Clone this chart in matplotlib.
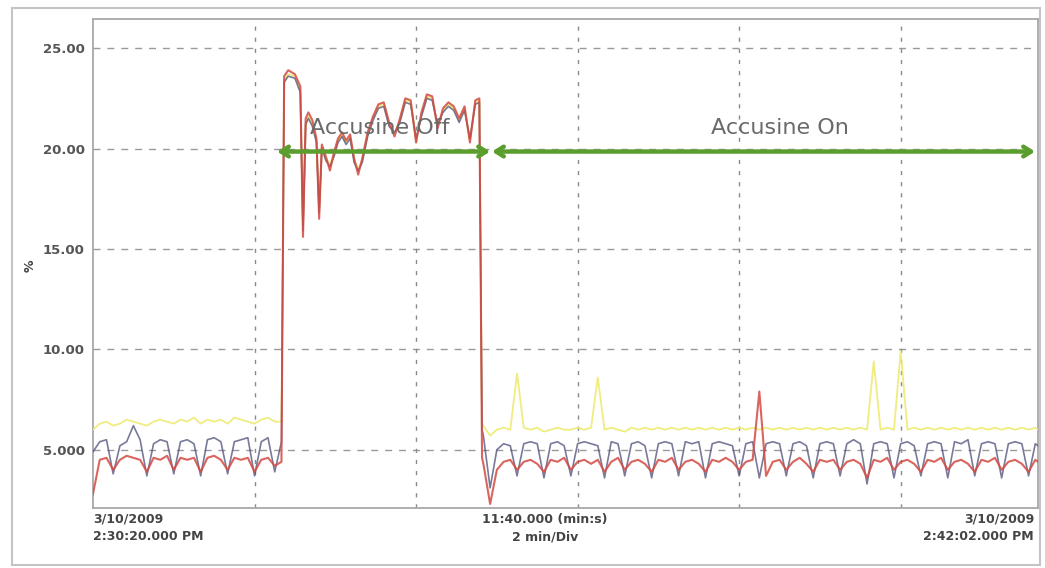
import numpy as np
import matplotlib
matplotlib.use("Agg")
import matplotlib.pyplot as plt
from matplotlib.patches import Rectangle

# ---------------- data (percent values) ----------------
# time in seconds from 3/10/2009 2:30:20.000 PM
t_pre = np.arange(0, 140, 5)
red_pre = [2.8, 4.5, 4.6, 4.0, 4.5, 4.7, 4.6, 4.5, 3.9, 4.6, 4.5, 4.7, 4.0, 4.6,
           4.5, 4.6, 3.9, 4.6, 4.7, 4.5, 4.0, 4.6, 4.5, 4.6, 3.9, 4.5, 4.6, 4.2]
blue_pre = [4.9, 5.4, 5.5, 3.8, 5.2, 5.4, 6.2, 5.5, 3.7, 5.3, 5.5, 5.4, 3.8, 5.4,
            5.5, 5.3, 3.7, 5.5, 5.6, 5.4, 3.8, 5.4, 5.5, 5.6, 3.7, 5.4, 5.6, 3.9]
yellow_pre = [6.0, 6.3, 6.4, 6.2, 6.3, 6.5, 6.4, 6.3, 6.2, 6.4, 6.5, 6.4, 6.3, 6.5,
              6.4, 6.6, 6.3, 6.5, 6.4, 6.5, 6.3, 6.6, 6.5, 6.4, 6.3, 6.5, 6.6, 6.4]

t_off = [140, 142, 145, 150, 154, 156, 158, 160, 163, 166, 168, 170, 173, 176, 179,
         182, 185, 188, 191, 194, 197, 200, 204, 208, 212, 216, 220, 224, 228, 232,
         236, 240, 244, 248, 252, 256, 260, 264, 268, 272, 276, 280, 284, 287, 289]
red_off = [4.4, 23.6, 23.9, 23.7, 23.1, 15.6, 21.5, 21.8, 21.4, 20.5, 16.5, 20.2, 19.6, 18.9, 19.8,
           20.5, 20.8, 20.4, 20.7, 19.5, 18.7, 19.5, 20.8, 21.6, 22.2, 22.3, 21.3, 20.6, 21.5, 22.5,
           22.4, 20.3, 21.8, 22.7, 22.6, 21.0, 22.0, 22.3, 22.1, 21.5, 22.1, 20.3, 22.4, 22.5, 4.6]
blue_off = [5.4, 23.3, 23.6, 23.5, 22.8, 15.9, 21.2, 21.5, 21.1, 20.3, 16.8, 20.0, 19.4, 19.1, 19.6,
            20.3, 20.6, 20.2, 20.5, 19.3, 18.9, 19.3, 20.6, 21.4, 22.0, 22.1, 21.1, 20.8, 21.3, 22.3,
            22.2, 20.5, 21.6, 22.5, 22.4, 21.2, 21.8, 22.1, 21.9, 21.3, 21.9, 20.5, 22.2, 22.3, 6.0]
yellow_off = [6.4, 23.4, 23.7, 23.6, 22.9, 16.2, 21.3, 21.6, 21.2, 20.4, 17.0, 20.1, 19.5, 19.2, 19.7,
              20.4, 20.7, 20.3, 20.6, 19.4, 19.0, 19.4, 20.7, 21.5, 22.1, 22.2, 21.2, 20.7, 21.4, 22.4,
              22.3, 20.4, 21.7, 22.6, 22.5, 21.1, 21.9, 22.2, 22.0, 21.4, 22.0, 20.4, 22.3, 22.4, 6.3]

t_post = np.append(np.arange(290, 701, 5), 702)
red_post = [4.3, 2.3, 4.0, 4.4, 4.5, 4.0, 4.4, 4.5, 4.3, 3.9,
            4.5, 4.4, 4.6, 4.0, 4.4, 4.5, 4.3, 4.5, 3.9, 4.4,
            4.6, 4.0, 4.4, 4.5, 4.3, 3.9, 4.5, 4.4, 4.6, 4.0,
            4.4, 4.5, 4.3, 3.9, 4.5, 4.4, 4.6, 4.4, 4.0, 4.4,
            4.5, 7.9, 3.7, 4.4, 4.5, 4.0, 4.4, 4.6, 4.3, 3.9,
            4.5, 4.4, 4.5, 4.0, 4.4, 4.5, 4.3, 3.6, 4.5, 4.4,
            4.6, 4.0, 4.4, 4.5, 4.3, 3.9, 4.5, 4.4, 4.6, 4.0,
            4.4, 4.5, 4.3, 3.9, 4.5, 4.4, 4.6, 4.0, 4.4, 4.5,
            4.3, 3.9, 4.5, 4.4]
blue_post = [5.7, 3.1, 5.0, 5.3, 5.2, 3.7, 5.3, 5.4, 5.3, 3.6,
             5.3, 5.4, 5.2, 3.7, 5.3, 5.4, 5.3, 5.2, 3.6, 5.4,
             5.3, 3.7, 5.3, 5.4, 5.2, 3.6, 5.3, 5.4, 5.3, 3.7,
             5.4, 5.3, 5.4, 3.6, 5.3, 5.4, 5.3, 5.2, 3.7, 5.3,
             5.4, 3.6, 5.3, 5.4, 5.3, 3.7, 5.3, 5.4, 5.2, 3.6,
             5.3, 5.4, 5.3, 3.7, 5.3, 5.5, 5.3, 3.3, 5.3, 5.4,
             5.3, 3.6, 5.3, 5.4, 5.2, 3.7, 5.3, 5.4, 5.3, 3.6,
             5.4, 5.3, 5.5, 3.7, 5.3, 5.4, 5.3, 3.6, 5.3, 5.4,
             5.3, 3.7, 5.3, 5.2]
yellow_post = [6.2, 5.7, 6.0, 6.1, 6.0, 8.8, 6.1, 6.0, 6.1, 5.9,
               6.0, 6.1, 6.0, 6.0, 6.1, 6.0, 6.1, 8.6, 6.0, 6.1,
               6.0, 5.9, 6.1, 6.0, 6.1, 6.0, 6.1, 6.0, 6.1, 6.0,
               6.1, 6.0, 6.1, 6.0, 6.1, 6.0, 6.1, 6.0, 6.1, 6.0,
               6.1, 6.0, 6.1, 6.0, 6.1, 6.0, 6.1, 6.0, 6.1, 6.0,
               6.1, 6.0, 6.1, 6.0, 6.1, 6.0, 6.1, 6.0, 9.4, 6.0,
               6.1, 6.0, 9.9, 6.0, 6.1, 6.0, 6.1, 6.0, 6.1, 6.0,
               6.1, 6.0, 6.1, 6.0, 6.1, 6.0, 6.1, 6.0, 6.1, 6.0,
               6.1, 6.0, 6.1, 6.0]

y_ticks = [5, 10, 15, 20, 25]
y_tick_labels = ["5.000", "10.00", "15.00", "20.00", "25.00"]
x_grid = [120, 240, 360, 480, 600]   # 2 min / div
off_span = (136.7, 295.0)
on_span = (296.4, 699.8)
arrow_level = 19.85

# ---------------- assemble ----------------
t_all = np.concatenate([t_pre, t_off, t_post])
red = np.concatenate([red_pre, red_off, red_post])
blue = np.concatenate([blue_pre, blue_off, blue_post])
yellow = np.concatenate([yellow_pre, yellow_off, yellow_post])

W, H = 1045, 568
fig = plt.figure(figsize=(W / 100, H / 100), dpi=100)
fig.patch.set_facecolor("white")
ax = fig.add_axes([93 / W, 1 - 508 / H, (1038 - 93) / W, (508 - 19) / H])

# outer frame
fig.add_artist(Rectangle((12 / W, 3 / H), (1040 - 12) / W, (565 - 8) / H,
                         transform=fig.transFigure, fill=False,
                         edgecolor="#c4c4c4", lw=1.5))

ax.plot(t_all, yellow, color="#eeea72", lw=1.3, alpha=0.9, zorder=3)
ax.plot(t_all, blue, color="#4b4d78", lw=1.2, alpha=0.75, zorder=4)
ax.plot(t_all, red, color="#d44a42", lw=1.5, alpha=0.85, zorder=5)

ax.set_xlim(0, 702)
ax.set_ylim(2.1, 26.45)
ax.set_yticks(y_ticks)
ax.set_yticklabels(y_tick_labels)
ax.set_xticks([])
ax.tick_params(axis="y", length=0, pad=6, labelsize=9.5, labelcolor="#555555")
for lbl in ax.get_yticklabels():
    lbl.set_fontweight("bold")

for y in y_ticks:
    ax.axhline(y, color="#9a9a9a", lw=1.0, ls=(0, (5, 5)), zorder=1)
for x in x_grid:
    ax.axvline(x, color="#8a8a8a", lw=1.0, ls=(0, (3, 5)), zorder=1)

for s in ax.spines.values():
    s.set_color("#a8a8a8")
    s.set_linewidth(1.3)

fig.text(30 / W, 1 - 266 / H, "%", fontsize=9, color="#444444", rotation=90,
         ha="center", va="center", fontweight="bold")

# arrows and annotations
arrow_kw = dict(arrowstyle="<->,head_length=0.55,head_width=0.35",
                color="#5a9e2e", lw=3.2, shrinkA=0, shrinkB=0)
ax.annotate("", xy=(off_span[0], arrow_level), xytext=(off_span[1], arrow_level),
            arrowprops=arrow_kw, zorder=6)
ax.annotate("", xy=(on_span[0], arrow_level), xytext=(on_span[1], arrow_level),
            arrowprops=arrow_kw, zorder=6)
ax.text(213, 21.0, "Accusine Off", ha="center", va="center", fontsize=16,
        color="#6a6a6a", zorder=7)
ax.text(510, 21.0, "Accusine On", ha="center", va="center", fontsize=16,
        color="#6a6a6a", zorder=7)

# bottom labels
lbl_kw = dict(va="center", fontsize=9, color="#444444", linespacing=1.4,
              fontweight="bold")
fig.text(93 / W, 1 - 528 / H, "3/10/2009\n2:30:20.000 PM", ha="left", **lbl_kw)
fig.text(545 / W, 1 - 528 / H, "11:40.000 (min:s)\n2 min/Div", ha="center",
         multialignment="center", **lbl_kw)
fig.text(1034 / W, 1 - 528 / H, "3/10/2009\n2:42:02.000 PM", ha="right",
         multialignment="right", **lbl_kw)

fig.savefig("out.png", dpi=100)
